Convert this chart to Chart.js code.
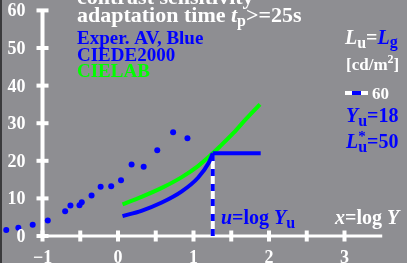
<!DOCTYPE html>
<html>
<head>
<meta charset="utf-8">
<script src="https://cdn.jsdelivr.net/npm/chart.js@4.4.1/dist/chart.umd.min.js"></script>
<style>
  html, body { margin: 0; padding: 0; background: #8e8e92; }
  canvas { display: block; }
</style>
</head>
<body>
<canvas id="chart" width="407" height="263"></canvas>
<script>
// axis ticks
var xTickLabels = [-1, 0, 1, 2, 3];
var xTickMarks  = [-1, -0.5, 0, 0.5, 1, 1.5, 2, 2.5, 3];
var xAxisEnd    = 3.5;
var yTickLabels = [0, 10, 20, 30, 40, 50, 60];

// Exper. AV, Blue (dots)
var expX = [-1.48, -1.32, -1.13, -0.93, -0.70, -0.63, -0.51, -0.48, -0.35, -0.23, -0.09, 0.04, 0.18, 0.34, 0.52, 0.73, 0.92];
var expY = [1.6, 2.2, 3.0, 4.1, 6.6, 8.1, 8.2, 9.0, 10.8, 13.1, 13.2, 14.8, 19.0, 18.4, 22.8, 27.6, 26.0];

// CIEDE2000 (blue line), flat after u
var deX = [0.06, 0.31, 0.58, 0.84, 1.06, 1.20, 1.255, 1.89];
var deY = [5.3, 6.7, 8.9, 11.8, 15.5, 19.4, 22.0, 22.0];

// CIELAB (green line)
var labX = [0.06, 0.31, 0.58, 0.84, 1.06, 1.255, 1.35, 1.53, 1.70, 1.88];
var labY = [8.4, 10.4, 12.8, 15.6, 18.6, 22.0, 23.8, 27.4, 31.2, 35.0];

// adaptation: u = log Yu, Yu = 18
var uLog = 1.255;
var uLevel = 22.0;

var BLUE = '#0000ff', GREEN = '#00ff00', WHITE = '#ffffff';
var SERIF = '"Liberation Serif", "DejaVu Serif", serif';

function pts(xs, ys) {
  return xs.map(function (x, i) { return { x: x, y: ys[i] }; });
}

function f(size, italic) {
  return (italic ? 'italic ' : '') + 'bold ' + size + 'px ' + SERIF;
}

// draw a row of text pieces (sub/superscripts)
function runs(ctx, x, y, parts) {
  parts.forEach(function (p) {
    ctx.font = p.f;
    ctx.fillStyle = p.c;
    ctx.fillText(p.t, x, y + (p.dy || 0));
    if (!p.stay) x += ctx.measureText(p.t).width + (p.gap || 0);
  });
}

// split CIEDE2000 at the corner so the curve keeps a sharp knee
var knee = deX.indexOf(uLog);
var deCurve = pts(deX.slice(0, knee + 1), deY.slice(0, knee + 1));
var deFlat = pts(deX.slice(knee), deY.slice(knee));

var textPlugin = {
  id: 'texts',
  beforeDraw: function (chart) {
    var ctx = chart.ctx;
    ctx.save();
    ctx.fillStyle = '#8e8e92';
    ctx.fillRect(0, 0, chart.width, chart.height);
    ctx.restore();
  },
  afterDraw: function (chart) {
    var ctx = chart.ctx;
    var xs = chart.scales.x, ys = chart.scales.y;
    ctx.save();

    // dark frame on the left
    ctx.fillStyle = '#3a3a3c';
    ctx.fillRect(0, 0, 2, chart.height);

    // tick labels
    ctx.font = f(18);
    ctx.fillStyle = WHITE;
    ctx.textAlign = 'right';
    yTickLabels.forEach(function (v) {
      ctx.fillText(String(v), xs.getPixelForValue(xTickLabels[0]) - 17, ys.getPixelForValue(v) + 6);
    });
    ctx.textAlign = 'center';
    xTickLabels.forEach(function (v) {
      var s = v < 0 ? '\u2212' + (-v) : String(v);
      ctx.fillText(s, xs.getPixelForValue(v), ys.getPixelForValue(0) + 27);
    });
    ctx.textAlign = 'left';

    // titles
    runs(ctx, 77, 4, [{ t: 'contrast sensitivity', f: f(22), c: WHITE }]);
    runs(ctx, 77, 22, [
      { t: 'adaptation time ', f: f(22), c: WHITE },
      { t: 't', f: f(22, true), c: WHITE },
      { t: 'p', f: f(16), c: WHITE, dy: 4 },
      { t: '>=25s', f: f(22), c: WHITE }
    ]);
    runs(ctx, 77, 44, [{ t: 'Exper. AV, Blue', f: f(19), c: BLUE }]);
    runs(ctx, 77, 61, [{ t: 'CIEDE2000', f: f(19), c: BLUE }]);
    runs(ctx, 77, 77, [{ t: 'CIELAB', f: f(19), c: GREEN }]);

    // right block
    runs(ctx, 345, 44, [
      { t: 'L', f: f(20, true), c: WHITE },
      { t: 'u', f: f(16), c: WHITE, dy: 4 },
      { t: '=', f: f(20), c: WHITE },
      { t: 'L', f: f(20, true), c: BLUE },
      { t: 'g', f: f(16), c: BLUE, dy: 3 }
    ]);
    runs(ctx, 346, 70, [
      { t: '[cd/m', f: f(17), c: WHITE },
      { t: '2', f: f(12), c: WHITE, dy: -7 },
      { t: ']', f: f(17), c: WHITE }
    ]);
    // legend sample: dashed white/blue
    ctx.lineWidth = 4;
    ctx.strokeStyle = WHITE;
    ctx.beginPath(); ctx.moveTo(345, 93); ctx.lineTo(368, 93); ctx.stroke();
    ctx.strokeStyle = BLUE;
    ctx.beginPath(); ctx.moveTo(352, 93); ctx.lineTo(361, 93); ctx.stroke();
    runs(ctx, 372, 99, [{ t: '60', f: f(17), c: WHITE }]);
    runs(ctx, 346, 122, [
      { t: 'Y', f: f(20, true), c: BLUE },
      { t: 'u', f: f(16), c: BLUE, dy: 4 },
      { t: '=18', f: f(20), c: BLUE }
    ]);
    runs(ctx, 346, 148, [
      { t: 'L', f: f(20, true), c: BLUE },
      { t: '*', f: f(15), c: BLUE, dy: -7, stay: true },
      { t: 'u', f: f(16), c: BLUE, dy: 4 },
      { t: '=50', f: f(20), c: BLUE }
    ]);

    // axis names
    runs(ctx, 221, 224, [
      { t: 'u', f: f(20, true), c: BLUE },
      { t: '=log ', f: f(20), c: BLUE },
      { t: 'Y', f: f(20, true), c: BLUE },
      { t: 'u', f: f(16), c: BLUE, dy: 4 }
    ]);
    runs(ctx, 335, 224, [
      { t: 'x', f: f(20, true), c: WHITE },
      { t: '=log ', f: f(20), c: WHITE },
      { t: 'Y', f: f(20, true), c: WHITE }
    ]);
    ctx.restore();
  }
};

var ctx = document.getElementById('chart');
var chart = new Chart(ctx, {
  type: 'scatter',
  data: {
    datasets: [
      {
        label: 'Exper. AV, Blue',
        data: pts(expX, expY),
        pointRadius: 3,
        pointBackgroundColor: BLUE,
        pointBorderWidth: 0,
        order: 1
      },
      {
        label: 'CIELAB',
        data: pts(labX, labY),
        showLine: true,
        borderColor: GREEN,
        borderWidth: 4,
        pointRadius: 0,
        cubicInterpolationMode: 'monotone',
        order: 3
      },
      {
        label: 'CIEDE2000',
        data: deCurve,
        showLine: true,
        borderColor: BLUE,
        borderWidth: 4,
        pointRadius: 0,
        cubicInterpolationMode: 'monotone',
        order: 2
      },
      {
        label: 'CIEDE2000 flat',
        data: deFlat,
        showLine: true,
        borderColor: BLUE,
        borderWidth: 4,
        pointRadius: 0,
        order: 2
      },
      {
        label: 'u blue',
        data: [{ x: uLog, y: 0 }, { x: uLog, y: uLevel }],
        showLine: true,
        borderColor: BLUE,
        borderWidth: 4,
        borderDash: [7, 8],
        borderCapStyle: 'butt',
        pointRadius: 0,
        order: 4
      },
      {
        label: 'u white',
        data: [{ x: uLog, y: 0 }, { x: uLog, y: uLevel }],
        showLine: true,
        borderColor: WHITE,
        borderWidth: 4,
        pointRadius: 0,
        order: 5
      },
      {
        label: 'y axis',
        data: [{ x: xTickLabels[0], y: yTickLabels[0] }, { x: xTickLabels[0], y: yTickLabels[yTickLabels.length - 1] }],
        showLine: true,
        borderColor: WHITE,
        borderWidth: 4,
        pointRadius: 0,
        order: 8
      },
      {
        label: 'x axis',
        data: [{ x: xTickLabels[0], y: 0 }, { x: xAxisEnd, y: 0 }],
        showLine: true,
        borderColor: WHITE,
        borderWidth: 3,
        pointRadius: 0,
        order: 8
      },
      {
        label: 'y ticks',
        data: yTickLabels.map(function (v) { return { x: xTickLabels[0], y: v }; }),
        pointStyle: 'line',
        pointRadius: 6,
        pointBorderWidth: 4,
        pointBorderColor: WHITE,
        order: 7
      },
      {
        label: 'x ticks',
        data: xTickMarks.map(function (v) { return { x: v, y: 0 }; }),
        pointStyle: 'line',
        pointRotation: 90,
        pointRadius: 5.5,
        pointBorderWidth: 4,
        pointBorderColor: WHITE,
        order: 7
      }
    ]
  },
  options: {
    responsive: false,
    animation: false,
    devicePixelRatio: 1,
    layout: { padding: 0, autoPadding: false },
    plugins: { legend: { display: false }, tooltip: { enabled: false } },
    scales: {
      x: { type: 'linear', display: false, min: -1.563, max: 3.828 },
      y: { type: 'linear', display: false, min: -7.18, max: 62.77 }
    }
  },
  plugins: [textPlugin]
});
</script>
</body>
</html>
